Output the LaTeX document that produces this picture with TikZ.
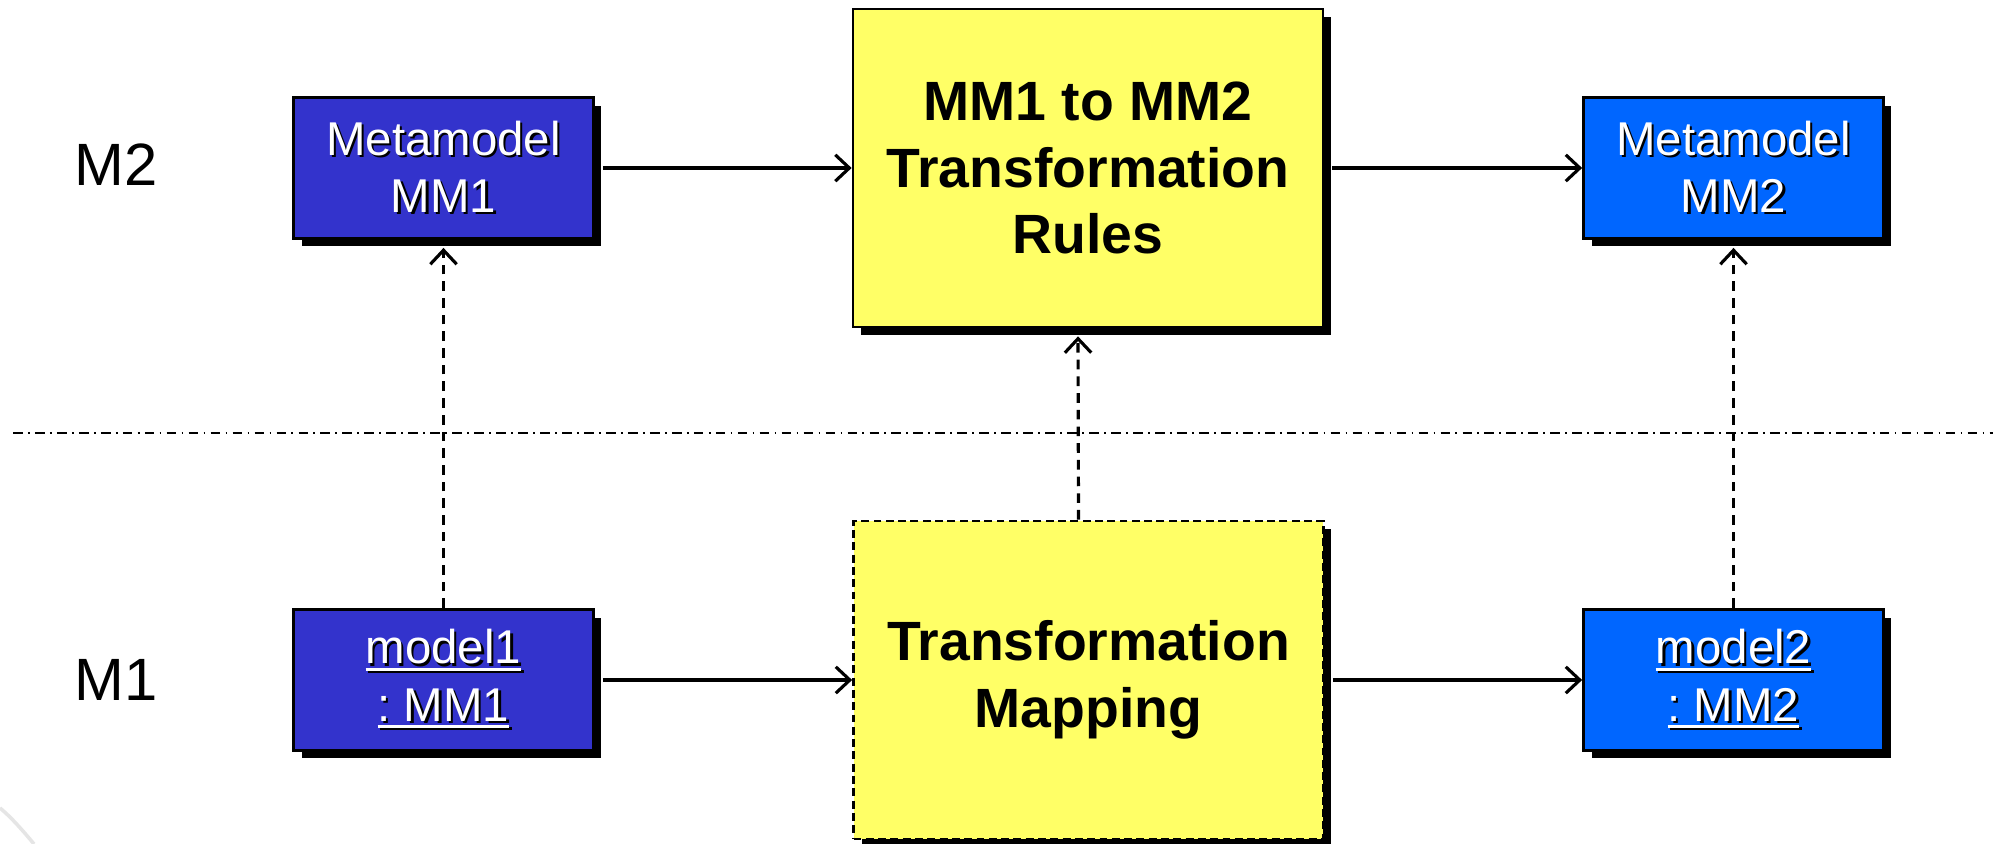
\documentclass[tikz,border=0pt]{standalone}
\usepackage{fontspec}
\setmainfont{Liberation Sans}
\usetikzlibrary{arrows.meta,shadows}

\definecolor{mmblue}{RGB}{51,51,204}
\definecolor{mmsky}{RGB}{0,102,255}
\definecolor{ruleyellow}{RGB}{255,255,102}

% white text with a small black shadow
\newcommand{\wsh}[1]{\rlap{\hspace{1.3pt}\raisebox{-1.3pt}{\color{black}#1}}#1}
% thick underline
\newcommand{\ulin}[1]{\setbox0\hbox{#1}\rlap{\rule[-0.15em]{\wd0}{0.065em}}\box0}

\begin{document}
\begin{tikzpicture}[x=0.02cm, y=-0.02cm,
  box/.style={draw=black, line width=1.6pt, minimum width=6cm, minimum height=2.82cm, align=center, text=white,
    font=\fontsize{27}{32.5}\selectfont,
    drop shadow={shadow xshift=0.16cm, shadow yshift=-0.16cm, fill=black, opacity=1}},
  rulebox/.style={box, fill=ruleyellow, text=black, minimum width=9.4cm, minimum height=6.36cm,
    font=\fontsize{31.5}{38}\selectfont\bfseries},
  link/.style={line width=1.8pt, -{Straight Barb[length=8pt,width=15pt]}},
  dep/.style={link, dash pattern=on 5.5pt off 4pt},
  level/.style={font=\fontsize{34}{40}\selectfont}]
\fill[white] (0,0) rectangle (1993,844);
\useasboundingbox (0,0) rectangle (1993,844);
\draw[gray!20, line width=2pt] (0,808) .. controls (12,818) and (24,832) .. (34,844);

\node[level] (m2) at (116,165) {M2};
\node[level] (m1) at (116,680) {M1};

\draw[line width=1.6pt, dash pattern=on 5.5pt off 3pt on 1pt off 3pt] (13,433) -- (1993,433);

\node[box, fill=mmblue] (mm1) at (443.5,168) {\wsh{Metamodel}\\\wsh{MM1}};
\node[rulebox] (rules) at (1088,168) {MM1 to MM2\\Transformation\\Rules};
\node[box, fill=mmsky] (mm2) at (1733.5,168) {\wsh{Metamodel}\\\wsh{MM2}};

\node[box, fill=mmblue] (model1) at (443.5,680) {\wsh{\ulin{model1}}\\\wsh{\ulin{:\ MM1}}};
\node[rulebox, dash pattern=on 4.5pt off 2.5pt] (map) at (1088.5,680) {Transformation\\Mapping};
\node[box, fill=mmsky] (model2) at (1733.5,680) {\wsh{\ulin{model2}}\\\wsh{\ulin{:\ MM2}}};

\draw[link] ([xshift=0.16cm]mm1.east) -- (rules.west);
\draw[link] ([xshift=0.16cm]rules.east) -- (mm2.west);
\draw[link] ([xshift=0.16cm]model1.east) -- (map.west);
\draw[link] ([xshift=0.16cm]map.east) -- (model2.west);

\draw[dep] (model1.north) -- ([yshift=-0.16cm]mm1.south);
\draw[dep] ([xshift=-0.2cm]map.north) -- ([xshift=-0.2cm,yshift=-0.16cm]rules.south);
\draw[dep] (model2.north) -- ([yshift=-0.16cm]mm2.south);
\end{tikzpicture}
\end{document}
